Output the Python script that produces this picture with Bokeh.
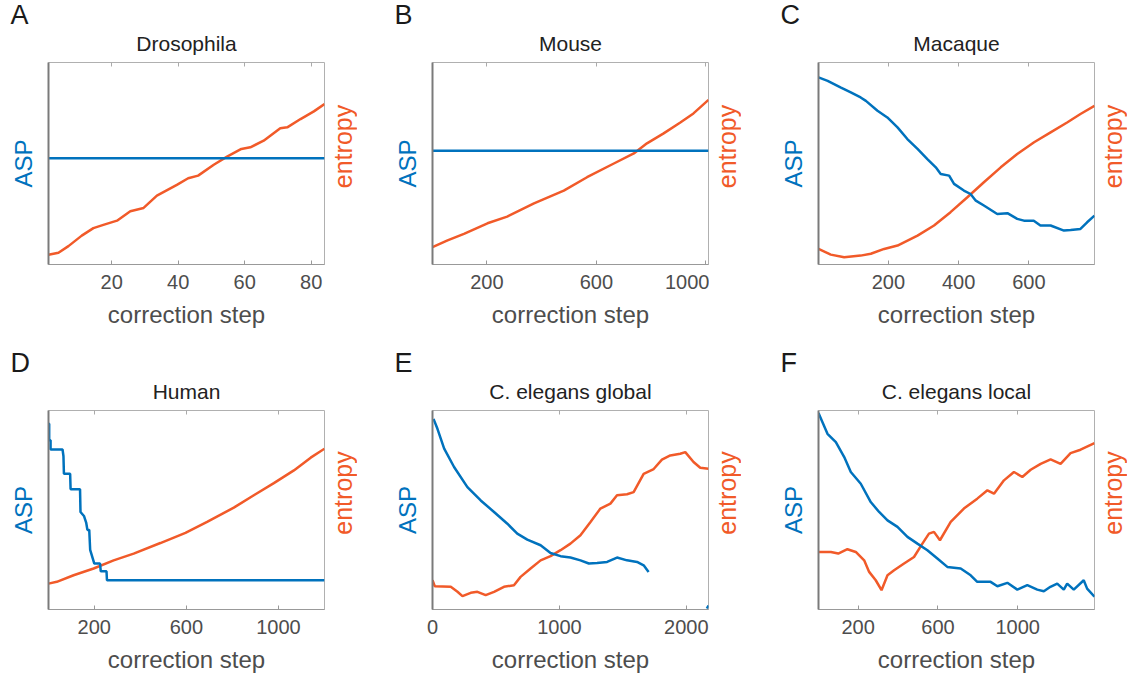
from bokeh.plotting import figure
from bokeh.models import LinearAxis, Range1d, FixedTicker, Title
from bokeh.layouts import column, row
from bokeh.embed import file_html
from bokeh.resources import INLINE

NAN = float("nan")

# ---------------- data (normalised 0..1 within each panel) ----------------
titles = ["Drosophila", "Mouse", "Macaque", "Human", "C. elegans global", "C. elegans local"]
letters = ["A", "B", "C", "D", "E", "F"]
x_ranges = [(1, 84), (1, 1010), (1, 787), (1, 1200), (0, 2175), (1, 1385)]
x_ticks = [[20, 40, 60, 80], [200, 600, 1000], [200, 400, 600],
           [200, 600, 1000], [0, 1000, 2000], [200, 600, 1000]]

# A: Drosophila
a_asp_x = [1, 84]
a_asp_y = [0.526, 0.526]
a_ent_x = [1, 4, 7, 11, 14.5, 17.5, 21.6, 25.6, 29.6, 33.6, 39.6, 43, 46, 50.7, 54.7, 59, 61.7, 65.7, 70.7, 72.8, 76.8, 80.8, 84]
a_ent_y = [0.048, 0.058, 0.091, 0.143, 0.18, 0.196, 0.217, 0.264, 0.28, 0.341, 0.394, 0.427, 0.44, 0.494, 0.534, 0.572, 0.58, 0.613, 0.675, 0.679, 0.72, 0.758, 0.794]

# B: Mouse
b_asp_x = [1, 1010]
b_asp_y = [0.563, 0.563]
b_ent_x = [1, 56, 116, 202, 274, 372, 481, 566, 664, 737, 785, 846, 907, 955, 1010]
b_ent_y = [0.086, 0.119, 0.152, 0.204, 0.237, 0.303, 0.366, 0.432, 0.5, 0.55, 0.6, 0.649, 0.703, 0.748, 0.815]

# C: Macaque
c_asp_x = [1, 27, 65, 93, 121, 136, 169, 197, 226, 254, 283, 311, 335, 349, 373, 387, 415, 434, 449, 472, 510, 539, 567, 586, 614, 633, 662, 700, 719, 747, 766, 787]
c_asp_y = [0.926, 0.909, 0.876, 0.852, 0.827, 0.81, 0.761, 0.728, 0.679, 0.621, 0.572, 0.522, 0.481, 0.448, 0.44, 0.399, 0.366, 0.349, 0.316, 0.292, 0.25, 0.254, 0.226, 0.217, 0.217, 0.193, 0.193, 0.168, 0.171, 0.176, 0.209, 0.242]
c_ent_x = [1, 36, 74, 121, 150, 188, 226, 283, 330, 377, 425, 472, 520, 567, 615, 662, 709, 747, 787]
c_ent_y = [0.077, 0.049, 0.036, 0.044, 0.053, 0.077, 0.094, 0.143, 0.193, 0.259, 0.333, 0.407, 0.481, 0.547, 0.605, 0.654, 0.703, 0.745, 0.786]

# D: Human (step-like ASP)
d_asp_x = [1, 4, 4, 10, 10, 62, 66, 68, 95, 97, 138, 140, 155, 165, 170, 178, 182, 200, 225, 228, 253, 255, 1200]
d_asp_y = [0.933, 0.933, 0.85, 0.85, 0.804, 0.804, 0.77, 0.682, 0.682, 0.604, 0.604, 0.49, 0.47, 0.435, 0.40, 0.40, 0.30, 0.231, 0.231, 0.192, 0.192, 0.147, 0.147]
d_ent_x = [1, 37, 110, 197, 284, 371, 487, 596, 690, 806, 893, 980, 1067, 1140, 1200]
d_ent_y = [0.13, 0.139, 0.172, 0.206, 0.247, 0.281, 0.334, 0.385, 0.44, 0.512, 0.574, 0.635, 0.699, 0.763, 0.808]

# E: C. elegans global (ASP has a gap before the last points)
e_asp_x = [8, 39, 92, 170, 275, 380, 485, 590, 668, 747, 852, 930, 1009, 1087, 1166, 1232, 1297, 1376, 1454, 1533, 1612, 1664, 1703, NAN, 2162, 2175]
e_asp_y = [0.958, 0.908, 0.808, 0.716, 0.615, 0.548, 0.49, 0.431, 0.381, 0.351, 0.323, 0.284, 0.268, 0.261, 0.247, 0.231, 0.234, 0.239, 0.261, 0.247, 0.239, 0.222, 0.189, NAN, 0.005, 0.02]
e_ent_x = [0, 18, 144, 197, 236, 301, 354, 419, 485, 563, 642, 694, 773, 852, 930, 1009, 1087, 1166, 1245, 1323, 1402, 1454, 1533, 1585, 1664, 1743, 1808, 1874, 1952, 1992, 2057, 2110, 2175]
e_ent_y = [0.147, 0.117, 0.114, 0.089, 0.067, 0.084, 0.089, 0.072, 0.089, 0.114, 0.122, 0.164, 0.206, 0.247, 0.268, 0.298, 0.331, 0.373, 0.44, 0.507, 0.532, 0.574, 0.579, 0.59, 0.682, 0.706, 0.753, 0.774, 0.783, 0.791, 0.741, 0.712, 0.707]

# F: C. elegans local
f_asp_x = [1, 21, 46, 88, 130, 163, 213, 263, 305, 347, 397, 447, 497, 547, 597, 647, 714, 764, 797, 864, 898, 948, 998, 1048, 1098, 1131, 1164, 1198, 1231, 1248, 1281, 1331, 1348, 1385]
f_asp_y = [0.987, 0.941, 0.883, 0.841, 0.766, 0.691, 0.632, 0.54, 0.49, 0.448, 0.415, 0.365, 0.331, 0.298, 0.256, 0.214, 0.206, 0.172, 0.139, 0.139, 0.117, 0.134, 0.1, 0.122, 0.1, 0.092, 0.114, 0.13, 0.1, 0.13, 0.1, 0.147, 0.105, 0.064]
f_ent_x = [1, 63, 100, 146, 188, 230, 255, 288, 317, 347, 380, 430, 480, 522, 555, 580, 610, 664, 730, 797, 848, 881, 931, 981, 1023, 1065, 1115, 1165, 1215, 1265, 1315, 1385]
f_ent_y = [0.289, 0.289, 0.281, 0.303, 0.289, 0.247, 0.189, 0.147, 0.097, 0.172, 0.197, 0.231, 0.264, 0.331, 0.381, 0.39, 0.348, 0.44, 0.507, 0.557, 0.599, 0.582, 0.649, 0.691, 0.666, 0.702, 0.732, 0.754, 0.732, 0.786, 0.803, 0.836]

asp_x = [a_asp_x, b_asp_x, c_asp_x, d_asp_x, e_asp_x, f_asp_x]
asp_y = [a_asp_y, b_asp_y, c_asp_y, d_asp_y, e_asp_y, f_asp_y]
ent_x = [a_ent_x, b_ent_x, c_ent_x, d_ent_x, e_ent_x, f_ent_x]
ent_y = [a_ent_y, b_ent_y, c_ent_y, d_ent_y, e_ent_y, f_ent_y]

# ---------------- styling ----------------
BLUE = "#0072BD"
ORANGE = "#F15A29"
FONT = "Liberation Sans"
GRAY_TXT = "#4d4d4d"
FRAME_W = 276

# main panels: min_border_left per column (frame lefts at 48, 432, 818)
col_left = [48, 75, 77]
# narrow strips carrying the right-hand "entropy" label of each panel
STRIP_LEFT = 31
ENT_LIFT = 34      # strip frame shortened at the bottom -> label sits a bit higher
# rows: (top, bottom, frame height)
rows_geo = [(62, 79, 202), (67, 66, 199)]


def make_panel(i):
    c = i % 3
    r = i // 3
    bt, bb, fh = rows_geo[r]
    p = figure(frame_width=FRAME_W, frame_height=fh,
               min_border_left=col_left[c], min_border_right=1,
               min_border_top=bt, min_border_bottom=bb,
               x_range=Range1d(*x_ranges[i]), y_range=Range1d(0, 1),
               output_backend="svg", toolbar_location=None, tools="",
               background_fill_color="white", border_fill_color="white")
    p.extra_y_ranges = {"ent": Range1d(0, 1)}
    p.outline_line_color = "#b0b0b0"
    p.outline_line_width = 1
    p.xgrid.visible = False
    p.ygrid.visible = False

    # bottom axis
    xa = p.xaxis[0]
    xa.ticker = FixedTicker(ticks=x_ticks[i])
    xa.axis_label = "correction step"
    xa.axis_label_text_font = FONT
    xa.axis_label_text_font_size = "24px"
    xa.axis_label_text_font_style = "normal"
    xa.axis_label_text_color = GRAY_TXT
    xa.axis_label_standoff = 9
    xa.major_label_text_font = FONT
    xa.major_label_text_font_size = "20px"
    xa.major_label_text_color = GRAY_TXT
    xa.major_label_standoff = 10
    xa.major_tick_in = 4
    xa.major_tick_out = 0
    xa.minor_tick_line_color = None
    xa.major_tick_line_color = "#999999"
    xa.axis_line_color = "#999999"

    # top axis (ticks only)
    ta = LinearAxis(ticker=FixedTicker(ticks=x_ticks[i]),
                    major_label_overrides={t: "" for t in x_ticks[i]},
                    major_label_standoff=0, major_tick_in=4, major_tick_out=0,
                    minor_tick_line_color=None, major_tick_line_color="#aaaaaa",
                    axis_line_color=None)
    p.add_layout(ta, "above")

    # species title
    p.add_layout(Title(text=titles[i], align="center", text_font=FONT,
                       text_font_size="21px", text_font_style="normal",
                       text_color="#222222", standoff=16), "above")

    # panel letter (outermost)
    p.title.text = letters[i]
    p.title.align = "left"
    p.title.offset = -38
    p.title.text_font = FONT
    p.title.text_font_size = "27px"
    p.title.text_font_style = "normal"
    p.title.text_color = "#1a1a1a"
    p.title.standoff = -17

    # left axis (ASP)
    ya = p.yaxis[0]
    ya.ticker = FixedTicker(ticks=[])
    ya.axis_label = "ASP"
    ya.axis_label_text_font = FONT
    ya.axis_label_text_font_size = "24px"
    ya.axis_label_text_font_style = "normal"
    ya.axis_label_text_color = BLUE
    ya.axis_label_standoff = 12
    ya.major_tick_out = 0
    ya.major_tick_in = 0
    ya.minor_tick_line_color = None
    ya.axis_line_color = "#7a7a7a"
    ya.axis_line_width = 2

    # data
    p.line(ent_x[i], ent_y[i], line_color=ORANGE, line_width=2.5,
           y_range_name="ent")
    p.line(asp_x[i], asp_y[i], line_color=BLUE, line_width=2.5)
    return p


def make_strip(r):
    """Narrow strip whose left axis label is the 'entropy' label of the panel on its left."""
    bt, bb, fh = rows_geo[r]
    q = figure(frame_width=1, frame_height=fh - ENT_LIFT, min_border_left=STRIP_LEFT,
               min_border_right=0, min_border_top=bt, min_border_bottom=bb + ENT_LIFT,
               x_range=Range1d(0, 1), y_range=Range1d(0, 1),
               x_axis_location=None, y_axis_location="left",
               output_backend="svg", toolbar_location=None, tools="",
               background_fill_color="white", border_fill_color="white")
    q.outline_line_color = None
    q.xgrid.visible = False
    q.ygrid.visible = False
    ax = q.yaxis[0]
    ax.ticker = FixedTicker(ticks=[])
    ax.axis_line_color = None
    ax.major_tick_out = 0
    ax.major_tick_in = 0
    ax.minor_tick_line_color = None
    ax.major_label_standoff = 0
    ax.axis_label = "entropy"
    ax.axis_label_text_font = FONT
    ax.axis_label_text_font_size = "25px"
    ax.axis_label_text_font_style = "normal"
    ax.axis_label_text_color = ORANGE
    ax.axis_label_standoff = 0
    return q


panels = [make_panel(i) for i in range(6)]
layout = column(
    row(panels[0], make_strip(0), panels[1], make_strip(0),
        panels[2], make_strip(0), spacing=0),
    row(panels[3], make_strip(1), panels[4], make_strip(1),
        panels[5], make_strip(1), spacing=0),
    spacing=0)

open("out.html", "w").write(file_html(layout, INLINE))
